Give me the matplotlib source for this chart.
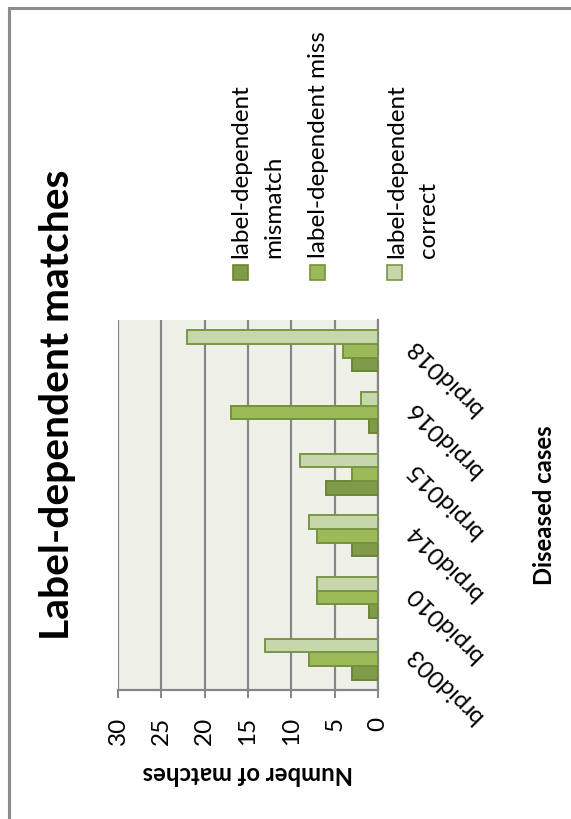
import matplotlib
matplotlib.use("Agg")
import matplotlib.pyplot as plt
import numpy as np
from matplotlib.patches import Rectangle
from matplotlib.lines import Line2D
from matplotlib.transforms import blended_transform_factory

plt.rcParams['font.family'] = ['Lato', 'DejaVu Sans']

categories = ["brpid003", "brpid010", "brpid014", "brpid015", "brpid016", "brpid018"]
mismatch = [3, 1, 3, 6, 1, 3]
miss = [8, 7, 7, 3, 17, 4]
correct = [13, 7, 8, 9, 2, 22]
series_names = ["label-dependent mismatch", "label-dependent miss", "label-dependent correct"]
value_ticks = [0, 5, 10, 15, 20, 25, 30]

face_colors = ["#7F9A48", "#9BBB59", "#C6D7AB"]
edge_colors = ["#6B8536", "#74923C", "#7A9548"]

W, H = 571, 819
fig = plt.figure(figsize=(W / 100, H / 100), dpi=100)

def fx(px):
    return px / W

def fy(py):
    return 1 - py / H

FS = 17.5

# plot area (pixel coords)
L, R, T, B = 118, 378, 320, 690
ax = fig.add_axes([fx(L), fy(B), fx(R) - fx(L), (B - T) / H])
ax.set_facecolor("#EFF1E9")

y = np.arange(len(categories))
w = 1 / 4.5
for vals, off, fc, ec in zip([mismatch, miss, correct], [-w, 0, w], face_colors, edge_colors):
    ax.barh(y + off, vals, height=w, color=fc, edgecolor=ec, linewidth=1.4, zorder=3)

ax.set_xlim(30, 0)
ax.set_ylim(-0.5, len(categories) - 0.5)
ax.set_xticks(value_ticks)
ax.set_xticklabels([str(v) for v in value_ticks], rotation=90, fontsize=FS)
ax.tick_params(axis='x', direction='out', length=6, width=1.4, color='#868686', pad=13)
ax.xaxis.grid(True, color='#868686', linewidth=1.6, zorder=1)
ax.set_axisbelow(True)

ax.set_yticks(y)
ax.set_yticklabels([])
ax.tick_params(axis='y', length=0, left=False, right=False)
trans = blended_transform_factory(ax.transAxes, ax.transData)
for i, cat in zip(y, categories):
    ax.text(1 + 32 / (R - L), i + 0.14, cat, transform=trans, fontsize=FS, rotation=135,
            ha='right', va='center', rotation_mode='anchor', clip_on=False)

for s in ['top', 'left']:
    ax.spines[s].set_visible(False)
for s in ['right', 'bottom']:
    ax.spines[s].set_color('#868686')
    ax.spines[s].set_linewidth(1.6)

# axis titles
fig.text(fx(248), fy(773), "Number of matches", rotation=180, fontsize=17.2,
         fontweight='bold', ha='center', va='center')
fig.text(fx(552), fy(505), "Diseased cases", rotation=90, fontsize=17.2,
         fontweight='bold', ha='center', va='baseline', rotation_mode='anchor')

# title
fig.text(fx(69), fy(640), "Label-dependent matches", rotation=90, fontsize=29.4,
         fontweight='bold', ha='left', va='baseline', rotation_mode='anchor')

# legend (manual, rotated)
sq = [(233, 265), (310, 265), (387, 265)]
for (sx, sy), fc, ec in zip(sq, face_colors, edge_colors):
    fig.add_artist(Rectangle((fx(sx), fy(sy + 15)), 15 / W, 15 / H, transform=fig.transFigure,
                             facecolor=fc, edgecolor=ec, linewidth=1.2))
legend_lines = [
    (247, "label-dependent"), (280, "mismatch"),
    (325, "label-dependent miss"),
    (403, "label-dependent"), (435, "correct"),
]
for bx, txt in legend_lines:
    fig.text(fx(bx), fy(258), txt, rotation=90, fontsize=FS, ha='left', va='baseline',
             rotation_mode='anchor')

# outer border (top and left)
fig.add_artist(Line2D([fx(9), fx(571)], [fy(8), fy(8)], transform=fig.transFigure,
                      color='#8C8C8C', linewidth=2.2))
fig.add_artist(Line2D([fx(9), fx(9)], [fy(8), fy(819)], transform=fig.transFigure,
                      color='#8C8C8C', linewidth=2.2))

fig.savefig("out.png", dpi=100, facecolor='white')
